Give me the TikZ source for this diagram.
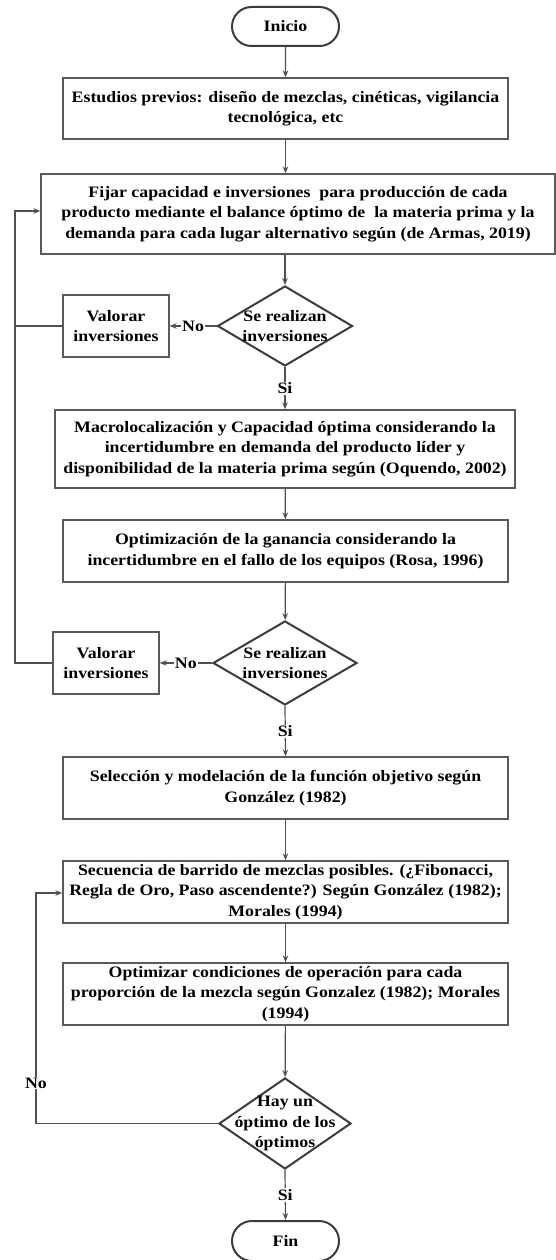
\documentclass[tikz,border=0pt]{standalone}
\usepackage{fontspec}
\setmainfont{Liberation Serif}[FakeStretch=1.12]
\usetikzlibrary{shapes.geometric,shapes.misc,arrows.meta}
\definecolor{boxline}{HTML}{5A5A5A}
\definecolor{decline}{HTML}{3C3C3C}
\definecolor{conline}{HTML}{505050}
\tikzset{
  x=1pt, y=-1pt,
  every node/.style={font=\fontsize{15.9}{20.5}\selectfont\bfseries, text=black},
  procbox/.style={draw=boxline, line width=1.3pt, rectangle, inner sep=0pt, align=center},
  termbox/.style={draw=decline, line width=2pt, rounded rectangle, inner sep=0pt, minimum width=107pt, minimum height=39pt},
  decbox/.style={draw=decline, line width=2pt, diamond, inner sep=0pt},
  dectext/.style={align=center, inner sep=0pt},
  arr/.style={draw=conline, line width=1.2pt, -{Stealth[length=7pt,width=5.5pt]}},
  conn/.style={draw=conline, line width=1.2pt},
  lab/.style={fill=white, inner sep=1pt}
}
\begin{document}
\begin{tikzpicture}
\useasboundingbox (0,0) rectangle (555,1260);
\node[termbox] (inicio) at (285.5,26.5) {Inicio};
\node[procbox, minimum width=445pt, minimum height=61pt] (estudios) at (285.5,108.5)
  {Estudios previos: diseño de mezclas, cinéticas, vigilancia\\tecnológica, etc};
\node[procbox, minimum width=514pt, minimum height=80pt] (fijar) at (298,214)
  {Fijar capacidad e inversiones\ \ para producción de cada\\producto mediante el balance óptimo de\ \ la materia prima y la\\demanda para cada lugar alternativo según (de Armas, 2019)};
\node[decbox, minimum width=135pt, minimum height=80pt] (d1) at (285,326) {};
\node[dectext] (d1t) at (285,326) {Se realizan\\inversiones};
\node[procbox, minimum width=106pt, minimum height=62pt] (val1) at (116,326) {Valorar\\inversiones};
\node[procbox, minimum width=460pt, minimum height=78pt] (macro) at (285,449)
  {Macrolocalización y Capacidad óptima considerando la\\incertidumbre en demanda del producto líder y\\disponibilidad de la materia prima según (Oquendo, 2002)};
\node[procbox, minimum width=445pt, minimum height=62pt] (opt) at (285.5,551)
  {Optimización de la ganancia considerando la\\incertidumbre en el fallo de los equipos (Rosa, 1996)};
\node[decbox, minimum width=144pt, minimum height=84pt] (d2) at (285,663) {};
\node[dectext] (d2t) at (285,663) {Se realizan\\inversiones};
\node[procbox, minimum width=106pt, minimum height=62pt] (val2) at (106,663) {Valorar\\inversiones};
\node[procbox, minimum width=445pt, minimum height=62pt] (sel) at (285.5,788)
  {Selección y modelación de la función objetivo según\\González (1982)};
\node[procbox, minimum width=445pt, minimum height=62pt] (sec) at (285.5,892)
  {Secuencia de barrido de mezclas posibles. (¿Fibonacci,\\Regla de Oro, Paso ascendente?) Según González (1982);\\Morales (1994)};
\node[procbox, minimum width=445pt, minimum height=62pt] (optim) at (285.5,994)
  {Optimizar condiciones de operación para cada\\proporción de la mezcla según Gonzalez (1982); Morales\\(1994)};
\node[decbox, minimum width=132pt, minimum height=91pt] (d3) at (285,1123.5) {};
\node[dectext] (d3t) at (285,1123.5) {Hay un\\óptimo de los\\óptimos};
\node[termbox, minimum height=40pt] (fin) at (285.5,1241) {Fin};
\coordinate (lx) at (15,0);
\coordinate (lx2) at (36,0);
% main flow
\draw[arr] (inicio) -- (estudios);
\draw[arr] (estudios.south) -- (estudios.south |- fijar.north);
\draw[arr] (d1.north |- fijar.south) -- (d1.north);
\draw[arr] (d1.south) -- node[lab] (si1) {Si} (macro.north);
\draw[arr] (macro) -- (opt);
\draw[arr] (opt) -- (d2);
\draw[arr] (d2.south) -- node[lab] (si2) {Si} (sel.north);
\draw[arr] (sel) -- (sec);
\draw[arr] (sec) -- (optim);
\draw[arr] (optim) -- (d3);
\draw[arr] (d3.south) -- node[lab] (si3) {Si} (fin.north);
% No branches
\draw[arr] (d1.west) -- node[lab] (no1) {No} (val1.east);
\draw[arr] (d2.west) -- node[lab] (no2) {No} (val2.east);
\draw[conn] (val1.west) -- (val1.west -| lx);
\draw[arr] (val2.west) -- (val2.west -| lx) |- ([yshift=3pt]fijar.west);
\draw[arr] (d3.west) -- (d3.west -| lx2) -- node[lab, pos=0.175] (no3) {No} ([yshift=-1pt]sec.west -| lx2) -- ([yshift=-1pt]sec.west);
\end{tikzpicture}
\end{document}
